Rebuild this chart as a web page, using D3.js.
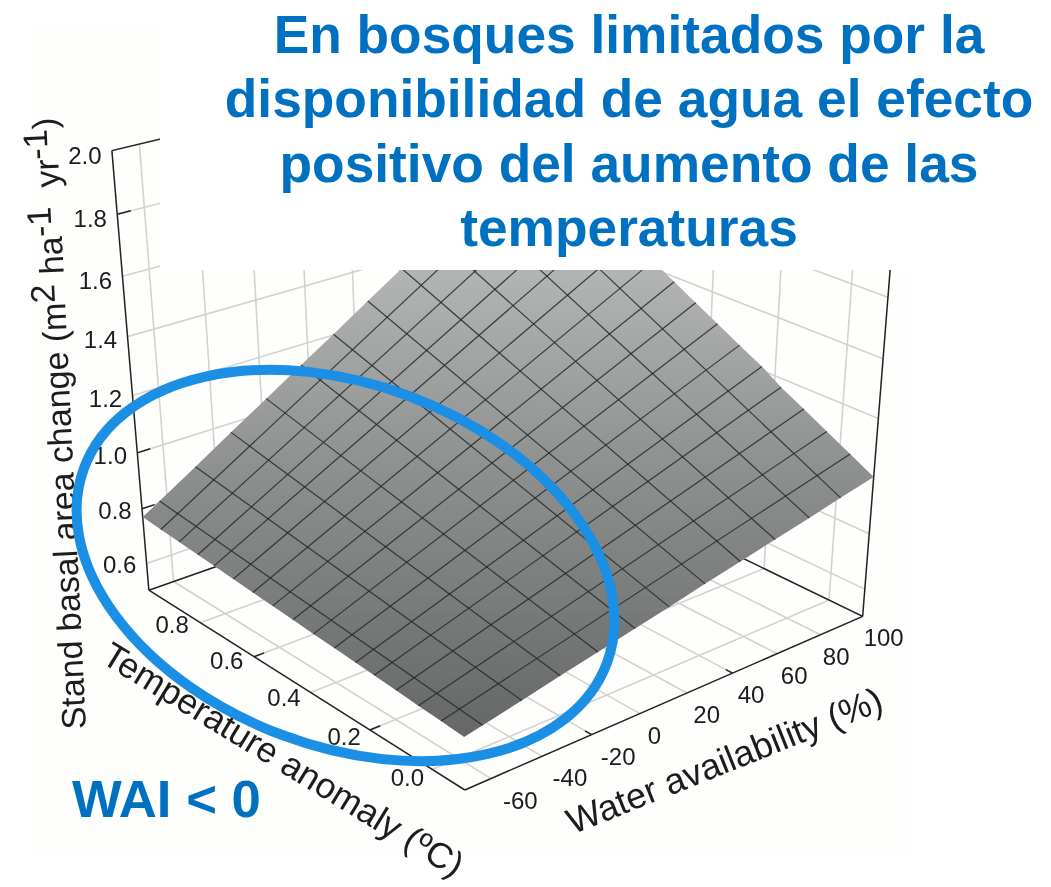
<!DOCTYPE html>
<html><head><meta charset="utf-8">
<style>html,body{margin:0;padding:0;background:#fff}svg{display:block}text{font-family:"Liberation Sans",Arial,sans-serif}</style>
<script src="https://cdn.jsdelivr.net/npm/d3@7/dist/d3.min.js"></script></head>
<body><svg id="c" width="1051" height="887"></svg>
<script>
// ---- data ----
const titleLines = ["En bosques limitados por la","disponibilidad de agua el efecto","positivo del aumento de las","temperaturas"];
const zTicks = [0.6,0.8,1.0,1.2,1.4,1.6,1.8,2.0];
const tempTicks = [0.0,0.2,0.4,0.6,0.8];
const waterTicks = [-60,-40,-20,0,20,40,60,80,100];
// tick marks that show as dark strokes in the picture
const zMarks = [0.8,1.0,1.8];
const tempMarks = [0.2,0.6];
const waterMarks = [-20,40];
const waterDomain = [-70,100];
const tempDomain = [-0.1,1.0];
const zDomain = [0.5,2.0];
// mesh lines of the surface
const meshTemp = [-0.1,-0.03,0.04,0.11,0.18,0.24,0.31,0.38,0.45,0.52,0.59,0.66,0.73,0.79,0.86,0.93,1.0];
const meshWater = [-70,-63,-48,-33,-18,-3,11,26,41,56,71,85,100];
// height of each temperature mesh line at the dry and the wet edge
const zDryEdge = [.680,.686,.691,.697,.703,.708,.714,.719,.725,.731,.736,.742,.748,.753,.759,.764,.770];
const zWetEdge = [1.000,1.043,1.085,1.128,1.170,1.213,1.255,1.298,1.340,1.383,1.425,1.468,1.510,1.553,1.595,1.638,1.680];
// height of each water mesh line at the cold and the warm edge
const zColdEdge = [.680,.693,.721,.750,.778,.806,.832,.861,.889,.917,.945,.972,1.000];
const zWarmEdge = [.770,.807,.887,.968,1.048,1.129,1.203,1.284,1.364,1.444,1.524,1.600,1.680];

// ---- projection: data box to screen, calibrated on landmarks of the box ----
const U = d3.scaleLinear().domain(waterDomain).range([0,1]);
const V = d3.scaleLinear().domain(tempDomain).range([0,1]);
const H = d3.scaleLinear().domain(zDomain).range([0,1]);
const corners = [[-70,-.1,.5,468,793],[100,-.1,.5,863,615],[-70,1,.5,147,588],[-70,1,2,113,152]];
const landmarks = [ // water, temperature, z, screen x, screen y
 ...corners,...corners,...corners,
 [100,1,.5,542,462],[100,-.1,2,898,165],[100,1,2,544,50],
 [-70,1,.6,148,560],[-70,1,.8,143,505],[-70,1,1,138,451],[-70,1,1.2,133,393],[-70,1,1.4,128,335],[-70,1,1.6,123,275],[-70,1,1.8,118,215],
 [100,-.1,.6,865,587],[100,-.1,.8,869,532],[100,-.1,1,874,474],[100,-.1,1.2,878,416],[100,-.1,1.4,883,357],[100,-.1,1.6,888,295],
 [-70,0,.5,437,768],[-70,.2,.5,373,729],[-70,.4,.5,313,692],[-70,.6,.5,253,655],[-70,.8,.5,198,620],
 [-60,-.1,.5,493,782],[-40,-.1,.5,543,758],[-20,-.1,.5,590,737],[0,-.1,.5,640,715],[20,-.1,.5,685,695],[40,-.1,.5,727,675],[60,-.1,.5,773,655],[80,-.1,.5,817,635],
 [-60,1,1.4,153,328],[-40,1,1.4,203,315],[-20,1,1.4,252,302],[0,1,1.4,300,290],[20,1,1.4,345,277],[-20,1,1.2,255,360],
 [100,.4,1.4,708,293],[100,.2,1.4,777,318],[100,0,1.4,848,347]
];
function solveCamera(pts){
  const rows=[],rhs=[];
  pts.forEach(([w,t,z,x,y])=>{
    const X=U(w),Y=V(t),Z=H(z);
    rows.push([X,Y,Z,1,-x*X,-x*Y,-x*Z,0,0,0,0]);rhs.push(x);
    rows.push([0,0,0,0,-y*X,-y*Y,-y*Z,X,Y,Z,1]);rhs.push(y);
  });
  const n=11,A=d3.range(n).map(i=>d3.range(n+1).map(j=>{
    let s=0;rows.forEach((r,k)=>{s+=r[i]*(j<n?r[j]:rhs[k]);});return s;}));
  for(let c=0;c<n;c++){
    let p=c;for(let r=c+1;r<n;r++)if(Math.abs(A[r][c])>Math.abs(A[p][c]))p=r;
    [A[c],A[p]]=[A[p],A[c]];
    for(let r=0;r<n;r++){if(r===c)continue;const f=A[r][c]/A[c][c];for(let j=c;j<=n;j++)A[r][j]-=f*A[c][j];}
  }
  return A.map((r,i)=>r[n]/r[i]);
}
const P = solveCamera(landmarks);
function proj(w,t,z){
  const X=U(w),Y=V(t),Z=H(z),d=P[4]*X+P[5]*Y+P[6]*Z+1;
  return [(P[0]*X+P[1]*Y+P[2]*Z+P[3])/d,(P[7]*X+P[8]*Y+P[9]*Z+P[10])/d];
}
const svg=d3.select("#c"), line=d3.line();
const defs=svg.append("defs");
const shade=defs.append("linearGradient").attr("id","shade").attr("gradientUnits","userSpaceOnUse")
  .attr("x1",0).attr("x2",0).attr("y1",270).attr("y2",736);
[[0,"#b3b5b5"],[0.43,"#8e9090"],[1,"#656767"]].forEach(s=>shade.append("stop").attr("offset",s[0]).attr("stop-color",s[1]));
defs.append("filter").attr("id","soft").append("feGaussianBlur").attr("stdDeviation",0.45);

svg.append("rect").attr("x",30).attr("y",25).attr("width",880).attr("height",830).attr("fill","#fefefc");
const g=svg.append("g").attr("filter","url(#soft)");
const [wMin,wMax]=waterDomain,[tMin,tMax]=tempDomain,[zMin,zMax]=zDomain;
const seg=(par,a,b)=>par.append("path").attr("d",line([a,b])).attr("fill","none");

// light grid on walls and floor
const grid=g.append("g").attr("stroke","#d2d2d0").attr("stroke-width",1.6).attr("fill","none");
zTicks.forEach(z=>{seg(grid,proj(wMin,tMax,z),proj(wMax,tMax,z));seg(grid,proj(wMax,tMax,z),proj(wMax,tMin,z));});
waterTicks.forEach(w=>{seg(grid,proj(w,tMax,zMin),proj(w,tMax,zMax));seg(grid,proj(w,tMin,zMin),proj(w,tMax,zMin));});
tempTicks.forEach(t=>{seg(grid,proj(wMax,t,zMin),proj(wMax,t,zMax));seg(grid,proj(wMin,t,zMin),proj(wMax,t,zMin));});

// box edges and ticks
const box=g.append("g").attr("stroke","#222").attr("stroke-width",1.5).attr("fill","none");
[[[wMin,tMax,zMin],[wMin,tMax,zMax]],[[wMax,tMin,zMin],[wMax,tMin,zMax]],
 [[wMin,tMax,zMax],[wMax,tMax,zMax]],[[wMin,tMin,zMin],[wMax,tMin,zMin]],
 [[wMin,tMin,zMin],[wMin,tMax,zMin]],[[wMin,tMax,zMin],[wMax,tMax,zMin]],
 [[wMax,tMin,zMin],[wMax,tMax,zMin]]
].forEach(e=>seg(box,proj(...e[0]),proj(...e[1])));
zMarks.forEach(z=>seg(box,proj(wMin,tMax,z),proj(wMin+5,tMax,z)));
waterMarks.forEach(w=>seg(box,proj(w,tMin,zMin),proj(w,tMin+0.02,zMin)));
tempMarks.forEach(t=>seg(box,proj(wMin,t,zMin),proj(wMin+4,t,zMin)));

// surface
const outline=[].concat(
  meshTemp.map((t,i)=>proj(wMin,t,zDryEdge[i])),
  meshWater.map((w,j)=>proj(w,tMax,zWarmEdge[j])),
  meshTemp.map((t,i)=>proj(wMax,t,zWetEdge[i])).reverse(),
  meshWater.map((w,j)=>proj(w,tMin,zColdEdge[j])).reverse());
g.append("path").attr("d",line(outline)+"Z").attr("fill","url(#shade)");
const mesh=g.append("g").attr("stroke","#262828").attr("stroke-opacity",0.85).attr("stroke-width",1.2).attr("fill","none");
meshTemp.slice(1,-1).forEach((t,k)=>seg(mesh,proj(wMin,t,zDryEdge[k+1]),proj(wMax,t,zWetEdge[k+1])));
meshWater.slice(1,-1).forEach((w,k)=>seg(mesh,proj(w,tMin,zColdEdge[k+1]),proj(w,tMax,zWarmEdge[k+1])));

// tick labels
const labels=g.append("g").attr("fill","#1c1c1c").attr("font-size",24);
const lab=(p,dx,dy,s,anchor)=>labels.append("text").attr("text-anchor",anchor).attr("x",p[0]+dx).attr("y",p[1]+dy+8.5).text(s);
const zDy=d3.scaleLinear().domain([0.6,2]).range([1,5]);
const tDx=d3.scaleLinear().domain([0,0.8]).range([-25,-28]);
const tDy=d3.scaleLinear().domain([0,0.8]).range([8,2]);
const wDx=d3.scaleLinear().domain([-60,100]).range([12,1]);
zTicks.forEach(z=>lab(proj(wMin,tMax,z),-27,zDy(z),z.toFixed(1),"middle"));
tempTicks.forEach(t=>lab(proj(wMin,t,zMin),tDx(t),tDy(t),t.toFixed(1),"middle"));
waterTicks.forEach(w=>lab(proj(w,tMin,zMin),wDx(w),21.5,String(w),"start"));

// axis titles
const titles=g.append("g").attr("fill","#1c1c1c").attr("text-anchor","middle");
const yt=titles.append("text").attr("font-size",34).attr("transform","translate(71,423) rotate(-92.8)");
[["Stand basal area change (m",0],["2",-10],[" ha",10],["-1",-10],["  yr",10],["-1",-10],[")",10]]
 .forEach(([s,dy])=>yt.append("tspan").attr("dy",dy).attr("xml:space","preserve").text(s));
titles.append("text").attr("font-size",35.5).attr("transform","translate(277,770) rotate(31.4)").text("Temperature anomaly (ºC)");
titles.append("text").attr("font-size",36).attr("transform","translate(729,772) rotate(-21.8)").text("Water availability (%)");

// white title panel and annotation
svg.append("rect").attr("x",160).attr("y",0).attr("width",891).attr("height",270).attr("fill","#fff");
const head=svg.append("g").attr("fill","#0070c0").attr("font-weight","bold").attr("font-size",53.3).attr("text-anchor","middle");
const titleY=d3.scalePoint().domain(titleLines).range([53,246]);
titleLines.forEach(s=>head.append("text").attr("x",629).attr("y",titleY(s)).text(s));
svg.append("ellipse").attr("cx",345.5).attr("cy",565.5).attr("rx",279).attr("ry",181)
  .attr("transform","rotate(20.5 345.5 565.5)").attr("fill","none").attr("stroke","#1a8fe3").attr("stroke-width",10);
svg.append("text").attr("x",72).attr("y",817).attr("fill","#0070c0").attr("font-weight","bold").attr("font-size",52.7).text("WAI < 0");
</script></body></html>
